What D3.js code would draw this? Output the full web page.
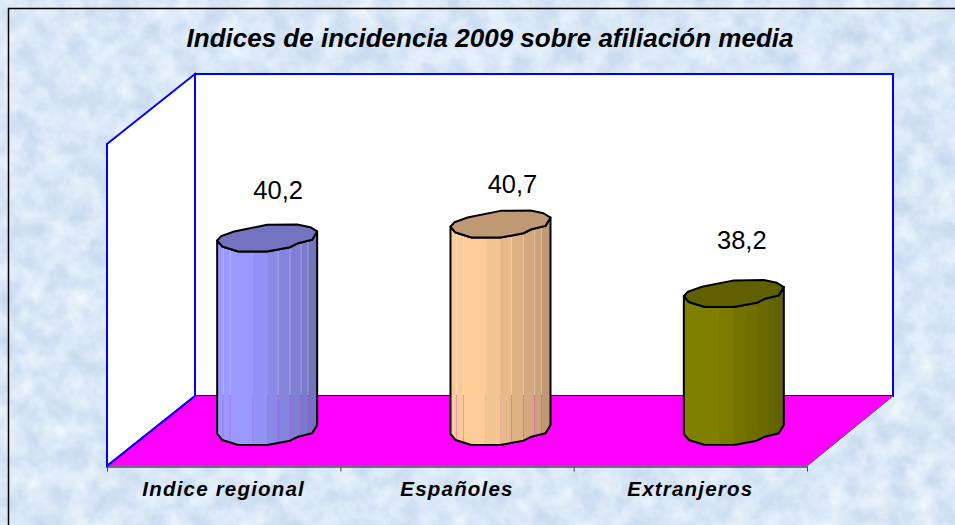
<!DOCTYPE html>
<html>
<head>
<meta charset="utf-8">
<script src="https://cdn.jsdelivr.net/npm/d3@7"></script>
<style>
  html, body { margin: 0; padding: 0; background: #fff; }
  svg { display: block; }
  text { font-family: "Liberation Sans", Arial, sans-serif; fill: #000; }
</style>
</head>
<body>
<svg id="chart" width="955" height="525"></svg>
<script>
const categories = ["Indice regional", "Españoles", "Extranjeros"];
const values = [40.2, 40.7, 38.2];
const valueLabels = ["40,2", "40,7", "38,2"];
const barColors = ["#9999ff", "#ffcc99", "#808000"];
const titleText = "Indices de incidencia 2009 sobre afiliación media";

// shape of the faceted cylinder: outline round the top, from the left edge
const outlineX = [0, 0.04, 0.17, 0.5, 0.8, 0.93, 1, 0.95, 0.81, 0.73, 0.5, 0.21, 0.05];
const outlineY = [0, -4.3, -9, -15.7, -16, -13.3, -9, -0.7, 2.7, 6.7, 11, 11, 6];
const facetEdges = [0, 0.06, 0.13, 0.35, 0.5, 0.61, 0.73, 0.84, 0.91, 1];
const facetShade = [1, 1, 1, 0.96, 0.9, 0.87, 0.83, 0.8, 0.75];
const facetSeams = [1, 2, 5, 6, 7, 8];

const svg = d3.select("#chart");

// plot box
const front = { left: 107, right: 807, bottom: 466, top: 144 };
const depth = { x: 87, y: -70 };
const barWidth = 100;
const seamGap = [0.3, 0.12, 0];
// the data labels were hand placed in the original chart
const labelNudgeX = [0, 1, -3];
const labelNudgeY = [0, 7, -6];

const x = d3.scaleBand().domain(categories).range([front.left, front.right]);
const y = d3.scaleLinear().domain([33.24, 44.82]).range([434, 112]);

// paper texture
const defs = svg.append("defs");
const paper = defs.append("filter").attr("id", "paper")
  .attr("x", 0).attr("y", 0).attr("width", "100%").attr("height", "100%")
  .attr("color-interpolation-filters", "sRGB");
paper.append("feTurbulence")
  .attr("type", "fractalNoise")
  .attr("baseFrequency", 0.045)
  .attr("numOctaves", 4)
  .attr("seed", 7);
paper.append("feColorMatrix")
  .attr("type", "matrix")
  .attr("values", "0.22 0 0 0 0.74  0.16 0 0 0 0.825  0.08 0 0 0 0.925  0 0 0 0 1");

svg.append("rect")
  .attr("width", 955).attr("height", 525)
  .attr("fill", "#d8e7f6")
  .attr("filter", "url(#paper)");

// outer frame, open on the right and at the bottom like the picture
svg.append("path")
  .attr("d", "M8.5,525V8.5H955")
  .attr("fill", "none").attr("stroke", "#000").attr("stroke-width", 1.5);

const poly = d3.line().curve(d3.curveLinearClosed);

// walls and floor
const backLeft = front.left + depth.x + 1;
const backRight = front.right + depth.x - 1;
const backTop = front.top + depth.y;
const backBottom = front.bottom + depth.y;

svg.append("path")
  .attr("d", poly([[front.left, front.top], [backLeft, backTop], [backLeft, backBottom], [front.left, front.bottom]]))
  .attr("fill", "#fff").attr("stroke", "#0000ff").attr("stroke-width", 2);

svg.append("rect")
  .attr("x", backLeft).attr("y", backTop)
  .attr("width", backRight - backLeft).attr("height", backBottom - backTop)
  .attr("fill", "#fff").attr("stroke", "#0000ff").attr("stroke-width", 2);

svg.append("path")
  .attr("d", poly([[front.left, front.bottom], [backLeft, backBottom], [backRight, backBottom], [front.right, front.bottom]]))
  .attr("fill", "#ff00ff");

svg.append("line")
  .attr("x1", front.left).attr("y1", front.bottom)
  .attr("x2", backLeft).attr("y2", backBottom)
  .attr("stroke", "#0000ff").attr("stroke-width", 2);

svg.append("line")
  .attr("x1", front.right).attr("y1", front.bottom)
  .attr("x2", backRight).attr("y2", backBottom)
  .attr("stroke", "#555").attr("stroke-width", 1);

// axis line, ticks on the band edges
const axis = svg.append("g")
  .attr("transform", `translate(0, ${front.bottom + 0.5})`)
  .call(d3.axisBottom(x).tickSize(0).tickPadding(15));
axis.select(".domain").attr("stroke", "#000").attr("stroke-width", 1.2);
axis.selectAll(".tick text")
  .style("font-family", '"Liberation Sans", Arial, sans-serif')
  .style("font-size", "20.5px")
  .style("font-weight", "bold")
  .style("font-style", "italic")
  .style("letter-spacing", "1.2px");

axis.selectAll(".edge")
  .data(d3.range(categories.length + 1))
  .enter()
  .append("line")
  .attr("class", "edge")
  .attr("x1", i => front.left + i * x.step() + 0.5)
  .attr("x2", i => front.left + i * x.step() + 0.5)
  .attr("y1", 0).attr("y2", 5)
  .attr("stroke", "#444");

// cylinders
categories.forEach((cat, i) => {
  const left = x(cat) + x.bandwidth() / 2 + depth.x / 2 - barWidth / 2;
  const topY = y(values[i]);
  const baseY = y.range()[0];
  const color = d3.color(barColors[i]);

  const ring = yy => outlineX.map((f, k) => [left + f * barWidth, yy + outlineY[k]]);
  const topRing = ring(topY);
  const baseRing = ring(baseY);

  // body: left edge down, front of base ring, right edge up, front of top ring
  const lowerIdx = [6, 7, 8, 9, 10, 11, 12, 0];
  const body = [...lowerIdx.slice().reverse().map(k => baseRing[k]), ...lowerIdx.map(k => topRing[k])];

  const g = svg.append("g").attr("class", "bar");

  defs.append("clipPath").attr("id", `body-${i}`)
    .append("path").attr("d", poly(body));

  g.append("g").attr("clip-path", `url(#body-${i})`)
    .selectAll("rect")
    .data(facetShade)
    .enter()
    .append("rect")
    .attr("x", (d, k) => left + facetEdges[k] * barWidth)
    .attr("y", topY - 20)
    .attr("width", (d, k) => (facetEdges[k + 1] - facetEdges[k]) * barWidth - (facetSeams.includes(k + 1) && seamGap[i] ? seamGap[i] : -0.3))
    .attr("height", baseY - topY + 40)
    .attr("fill", d => d3.rgb(color.r * d, color.g * d, color.b * d));

  g.append("path")
    .attr("d", poly(body))
    .attr("fill", "none").attr("stroke", "#000").attr("stroke-width", 2).attr("stroke-linejoin", "round");

  g.append("path")
    .attr("d", poly(topRing))
    .attr("fill", d3.rgb(color.r * 0.75, color.g * 0.75, color.b * 0.75))
    .attr("stroke", "#000").attr("stroke-width", 2).attr("stroke-linejoin", "round");

  svg.append("text")
    .attr("x", left + barWidth / 2 + 11 + labelNudgeX[i])
    .attr("y", topY - 41 + labelNudgeY[i])
    .attr("text-anchor", "middle")
    .style("font-size", "25.5px")
    .text(valueLabels[i]);
});

svg.append("text")
  .attr("x", 490).attr("y", 47)
  .attr("text-anchor", "middle")
  .style("font-size", "26px")
  .style("font-weight", "bold")
  .style("font-style", "italic")
  .text(titleText);
</script>
</body>
</html>
